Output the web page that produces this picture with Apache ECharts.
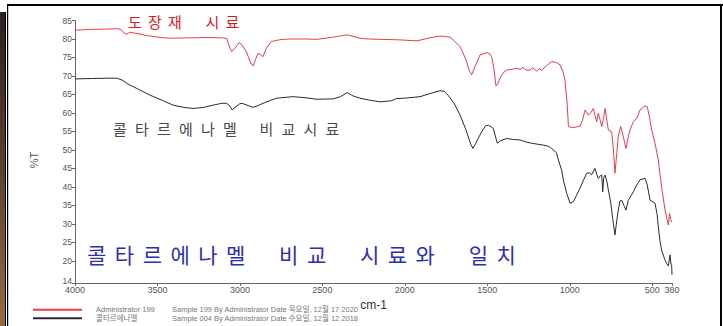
<!DOCTYPE html>
<html>
<head>
<meta charset="utf-8">
<script src="https://cdn.jsdelivr.net/npm/echarts@6/dist/echarts.min.js"></script>
<style>
html,body{margin:0;padding:0;background:#fff;}
#chart{width:723px;height:326px;}
</style>
</head>
<body>
<div id="chart"></div>
<script>
// ---- data ----
const wavenumberTicks = [4000, 3500, 3000, 2500, 2000, 1500, 1000, 500, 380];
const percentTTicks = [14, 20, 25, 30, 35, 40, 45, 50, 55, 60, 65, 70, 75, 80, 85];

const seriesNames = ['Administrator 199', '콜타르에나멜'];
const sampleTexts = [
  'Sample 199 By Administrator Date 목요일, 12월 17 2020',
  'Sample 004 By Administrator Date 수요일, 12월 12 2018'
];

const redWave = [4000,3900,3800,3745,3720,3700,3685,3670,3640,3560,3480,3424,3300,3200,3100,3080,3060,3050,3030,3005,2990,2960,2935,2920,2905,2890,2870,2860,2840,2810,2760,2700,2600,2533,2450,2380,2350,2320,2272,2220,2150,2050,1926,1850,1787,1726,1700,1665,1630,1610,1595,1575,1544,1504,1485,1474,1460,1447,1435,1423,1400,1382,1350,1322,1300,1285,1260,1241,1225,1200,1185,1170,1140,1110,1080,1059,1040,1029,1015,1008,980,950,936,920,907,887,870,857,845,837,827,815,806,795,786,775,766,746,735,726,715,706,691,675,659,645,635,614,594,574,544,530,515,503,483,463,453,440,422,402,395,388,382];
const redT = [82.4,82.6,82.7,82.8,82.5,81.5,81.3,81.8,81.6,80.9,80.4,80.2,80.3,80.4,80.3,80.1,77.5,76.6,77.5,79.0,78.5,76.5,73.5,72.7,74.5,76.1,75.6,75.2,77.5,79.3,79.8,80.0,80.0,79.9,80.4,80.9,81.1,80.8,80.2,80.0,79.9,79.8,79.5,80.3,80.8,80.5,79.5,77.9,74.5,71.5,70.3,72.5,75.7,76.3,76.0,75.2,72.0,67.3,68.0,69.4,71.0,71.6,71.8,72.1,71.8,72.3,71.5,71.6,72.2,71.3,72.0,71.6,72.8,73.9,73.6,73.0,71.0,68.9,62.0,56.3,56.0,56.3,56.5,58.5,60.8,59.4,60.2,61.2,59.0,57.6,59.9,58.0,56.3,58.5,61.2,58.0,55.4,54.9,50.0,43.7,49.0,53.6,56.3,53.5,50.4,53.5,55.4,57.6,58.5,60.8,61.9,61.7,58.5,55.4,51.8,47.3,43.5,39.0,33.7,29.7,32.8,31.2,30.5];

const blackWave = [4000,3900,3800,3745,3710,3679,3620,3545,3470,3405,3340,3284,3220,3163,3110,3080,3060,3048,3030,3000,2987,2950,2920,2890,2860,2820,2775,2678,2600,2533,2435,2390,2350,2330,2314,2272,2220,2150,2080,2050,2000,1950,1908,1850,1787,1760,1738,1700,1665,1630,1600,1587,1570,1534,1510,1494,1475,1463,1450,1439,1420,1382,1340,1302,1270,1231,1190,1160,1130,1110,1080,1069,1049,1039,1019,998,978,958,938,917,897,882,867,847,837,827,815,806,800,794,786,775,766,751,740,726,716,706,695,685,672,659,645,630,614,594,574,544,530,513,483,470,463,453,443,425,413,402,396,392,386,382,380];
const blackT = [69.2,69.3,69.4,69.4,68.8,67.8,66.5,64.8,63.4,62.1,61.5,61.2,61.5,62.1,62.6,62.6,61.8,60.8,61.5,62.5,62.6,62.0,61.5,62.0,62.6,63.3,64.0,64.4,64.1,63.7,63.8,64.4,65.5,65.0,64.6,64.0,63.5,63.0,63.3,63.9,64.0,64.2,64.4,65.2,66.0,65.8,64.8,62.5,59.4,55.5,51.5,50.4,51.8,54.9,56.5,56.7,56.2,55.8,53.5,51.8,52.5,53.1,52.8,52.7,52.2,51.8,51.5,51.3,51.0,50.4,49.2,47.3,44.5,41.9,38.3,35.6,36.0,37.8,39.6,41.8,43.7,43.8,43.3,45.0,43.5,42.3,43.0,43.2,38.7,42.5,43.2,41.5,39.2,35.6,31.5,27.0,30.5,33.7,36.2,36.4,35.0,33.7,36.4,37.5,38.7,40.5,41.9,42.3,40.5,36.4,35.6,32.5,29.2,25.5,22.9,20.5,19.3,18.6,20.5,21.6,19.0,18.9,16.2];

const annotationTexts = ['도장재 시료', '콜타르에나멜 비교시료', '콜타르에나멜 비교 시료와 일치'];

// ---- styling / layout ----
const KR = '"Noto Sans CJK KR", "Noto Sans", sans-serif';
const LAT = '"Liberation Sans", Arial, "Noto Sans CJK KR", sans-serif';
const annotationStyles = [
  {x: 128, y: 21.5, size: 15, color: '#e8141c', ls: 6.2, ws: 8},
  {x: 113, y: 128.5, size: 15, color: '#4a4a4a', ls: 8.2, ws: 3},
  {x: 87,  y: 254,  size: 21, color: '#2e2eb0', ls: 8.5, ws: 12}
];
const lineColors = ['#ec3a4a', '#2a2a2a'];

const chart = echarts.init(document.getElementById('chart'), null, {renderer: 'svg'});

const graphics = [
  {type: 'rect', shape: {x: 0, y: 12, width: 5, height: 314}, style: {fill: new echarts.graphic.LinearGradient(0, 0, 0, 1, [{offset: 0, color: '#2c2220'}, {offset: 0.5, color: '#5e4030'}, {offset: 1, color: '#9a6a40'}])}},
  {type: 'rect', shape: {x: 5, y: 12, width: 1, height: 314}, style: {fill: '#000'}},
  {type: 'rect', shape: {x: 7, y: 4, width: 716, height: 2}, style: {fill: '#000'}},
  {type: 'rect', shape: {x: 7, y: 4, width: 1.2, height: 322}, style: {fill: '#000'}},
  {type: 'rect', shape: {x: 720, y: 4, width: 2, height: 322}, style: {fill: '#000'}},
  {type: 'text', x: 34, y: 160, rotation: Math.PI / 2,
   style: {text: '%T', fontSize: 11, fontFamily: LAT, fill: '#555', align: 'center', verticalAlign: 'middle'}}
];
annotationTexts.forEach((t, i) => {
  const s = annotationStyles[i];
  graphics.push({type: 'text', x: s.x, y: s.y, z: 10,
    style: {text: t, fontSize: s.size, fontFamily: KR, fill: s.color, align: 'left', verticalAlign: 'middle'}});
});

const toPairs = (xs, ys) => xs.map((w, i) => [w, ys[i]]);

chart.setOption({
  animation: false,
  backgroundColor: '#fff',
  grid: {left: 75, right: 51, top: 20.5, bottom: 43, containLabel: false},
  xAxis: {
    type: 'value', min: 380, max: 4000, inverse: true,
    name: 'cm-1', nameLocation: 'middle', nameGap: 8,
    nameTextStyle: {fontSize: 12, color: '#333', fontFamily: LAT},
    axisLine: {show: true, lineStyle: {color: '#666', width: 1}},
    axisTick: {show: true, length: 3, customValues: wavenumberTicks, lineStyle: {color: '#666'}},
    axisLabel: {customValues: wavenumberTicks, fontSize: 9, color: '#555', margin: 2, hideOverlap: false,
      fontFamily: LAT, formatter: v => String(v)},
    splitLine: {show: false}
  },
  yAxis: {
    type: 'value', min: 14, max: 85,
    axisLine: {show: true, lineStyle: {color: '#666', width: 1}},
    axisTick: {show: true, length: 3, customValues: percentTTicks, lineStyle: {color: '#666'}},
    axisLabel: {customValues: percentTTicks, fontSize: 8.5, color: '#555', margin: 3,
      fontFamily: LAT,
      formatter: v => v === percentTTicks[0] ? '{low|' + v + '}' : String(v),
      rich: {low: {fontSize: 8.5, color: '#555', fontFamily: LAT, lineHeight: 9, padding: [0, 0, 5, 0]}}},
    splitLine: {show: false}
  },
  legend: {
    orient: 'vertical', left: 33, top: 306, height: 40, itemGap: 1, padding: 0,
    itemWidth: 49, itemHeight: 2, icon: 'rect',
    data: seriesNames,
    formatter: name => '{a|' + name + '}{b|' + sampleTexts[seriesNames.indexOf(name)] + '}',
    textStyle: {
      fontSize: 7.5, color: '#777', fontFamily: LAT,
      rich: {
        a: {width: 76, padding: [0, 0, 0, 9], fontSize: 7.5, lineHeight: 10, color: '#777', fontFamily: LAT},
        b: {fontSize: 7.5, lineHeight: 10, color: '#777', fontFamily: LAT}
      }
    }
  },
  graphic: graphics,
  series: [
    {name: seriesNames[0], type: 'line', data: toPairs(redWave, redT), showSymbol: false,
     lineStyle: {color: lineColors[0], width: 1}, itemStyle: {color: lineColors[0]}},
    {name: seriesNames[1], type: 'line', data: toPairs(blackWave, blackT), showSymbol: false,
     lineStyle: {color: lineColors[1], width: 1}, itemStyle: {color: lineColors[1]}}
  ]
});

function applySpacing() {
  document.querySelectorAll('#chart text').forEach(el => {
    const idx = annotationTexts.indexOf(el.textContent);
    if (idx >= 0) {
      el.style.letterSpacing = annotationStyles[idx].ls + 'px';
      el.style.wordSpacing = annotationStyles[idx].ws + 'px';
    }
  });
}
applySpacing();
chart.on('finished', applySpacing);
setTimeout(applySpacing, 50);
</script>
</body>
</html>
